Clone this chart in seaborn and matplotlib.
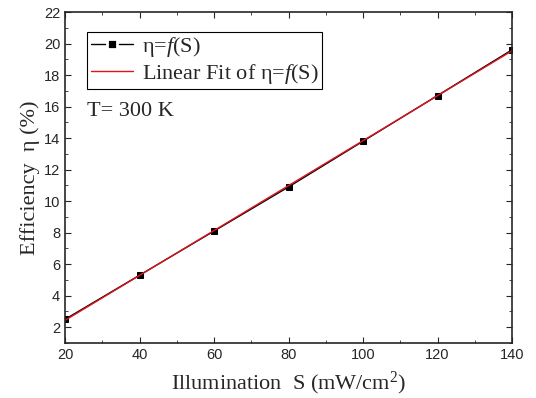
import matplotlib
matplotlib.use("Agg")
import matplotlib.pyplot as plt
import seaborn as sns
import numpy as np
import pandas as pd
from matplotlib.ticker import MultipleLocator

illumination = [20, 40, 60, 80, 100, 120, 140]
efficiency = [2.5, 5.3, 8.1, 10.9, 13.8, 16.7, 19.6]

df = pd.DataFrame({"S": illumination, "eta": efficiency})
slope, intercept = np.polyfit(df["S"], df["eta"], 1)
df["fit"] = slope * df["S"] + intercept

sns.set_style("ticks")
plt.rcParams["font.family"] = ["Liberation Sans", "DejaVu Sans"]
plt.rcParams["mathtext.fontset"] = "custom"
plt.rcParams["mathtext.rm"] = "Liberation Serif"
plt.rcParams["mathtext.it"] = "Liberation Serif:italic"

fig = plt.figure(figsize=(5.36, 3.98), dpi=100)
ax = fig.add_axes([65 / 536, 1 - 343 / 398, (512 - 65) / 536, (343 - 12) / 398])

sns.lineplot(data=df, x="S", y="eta", ax=ax, color="black", marker="s",
             markersize=5, markeredgecolor="black", linewidth=1.0,
             label=r"$\mathrm{\eta}$=$\mathit{f}$(S)")
sns.lineplot(data=df, x="S", y="fit", ax=ax, color="#e0141e", linewidth=1.0,
             label=r"Linear Fit of $\mathrm{\eta}$=$\mathit{f}$(S)")

ax.set_xlim(20, 140)
ax.set_ylim(1, 22)
ax.xaxis.set_major_locator(MultipleLocator(20))
ax.xaxis.set_minor_locator(MultipleLocator(10))
ax.yaxis.set_major_locator(MultipleLocator(2))
ax.yaxis.set_minor_locator(MultipleLocator(1))
ax.tick_params(which="both", direction="in", top=True, right=True, labelsize=10.5)
ax.tick_params(which="major", length=4, width=0.8)
ax.tick_params(which="minor", length=2, width=0.6)
for s in ax.spines.values():
    s.set_linewidth(1.2)

serif = ["Liberation Serif", "DejaVu Serif"]
ax.set_xlabel(r"Illumination  S (mW/cm$^2$)", fontsize=16, family=serif, labelpad=6)
ax.set_ylabel(r"Efficiency  η (%)", fontsize=16, family=serif, labelpad=3)

leg = ax.legend(loc="upper left", bbox_to_anchor=(0.05, 0.94), frameon=True,
                fancybox=False, edgecolor="black", framealpha=1,
                prop={"family": serif, "size": 16}, handlelength=1.9,
                handletextpad=0.4, borderpad=0.15, labelspacing=0.12,
                borderaxespad=0)
leg.get_frame().set_linewidth(0.8)
for h in leg.legend_handles:
    if h.get_marker() == "s":
        h.set_markersize(7.5)
        h.set_markeredgecolor("white")
        h.set_markeredgewidth(2)

ax.text(0.05, 0.70, "T= 300 K", transform=ax.transAxes, fontsize=16,
        family=serif, va="center", ha="left")

fig.savefig("out.png", dpi=100)
